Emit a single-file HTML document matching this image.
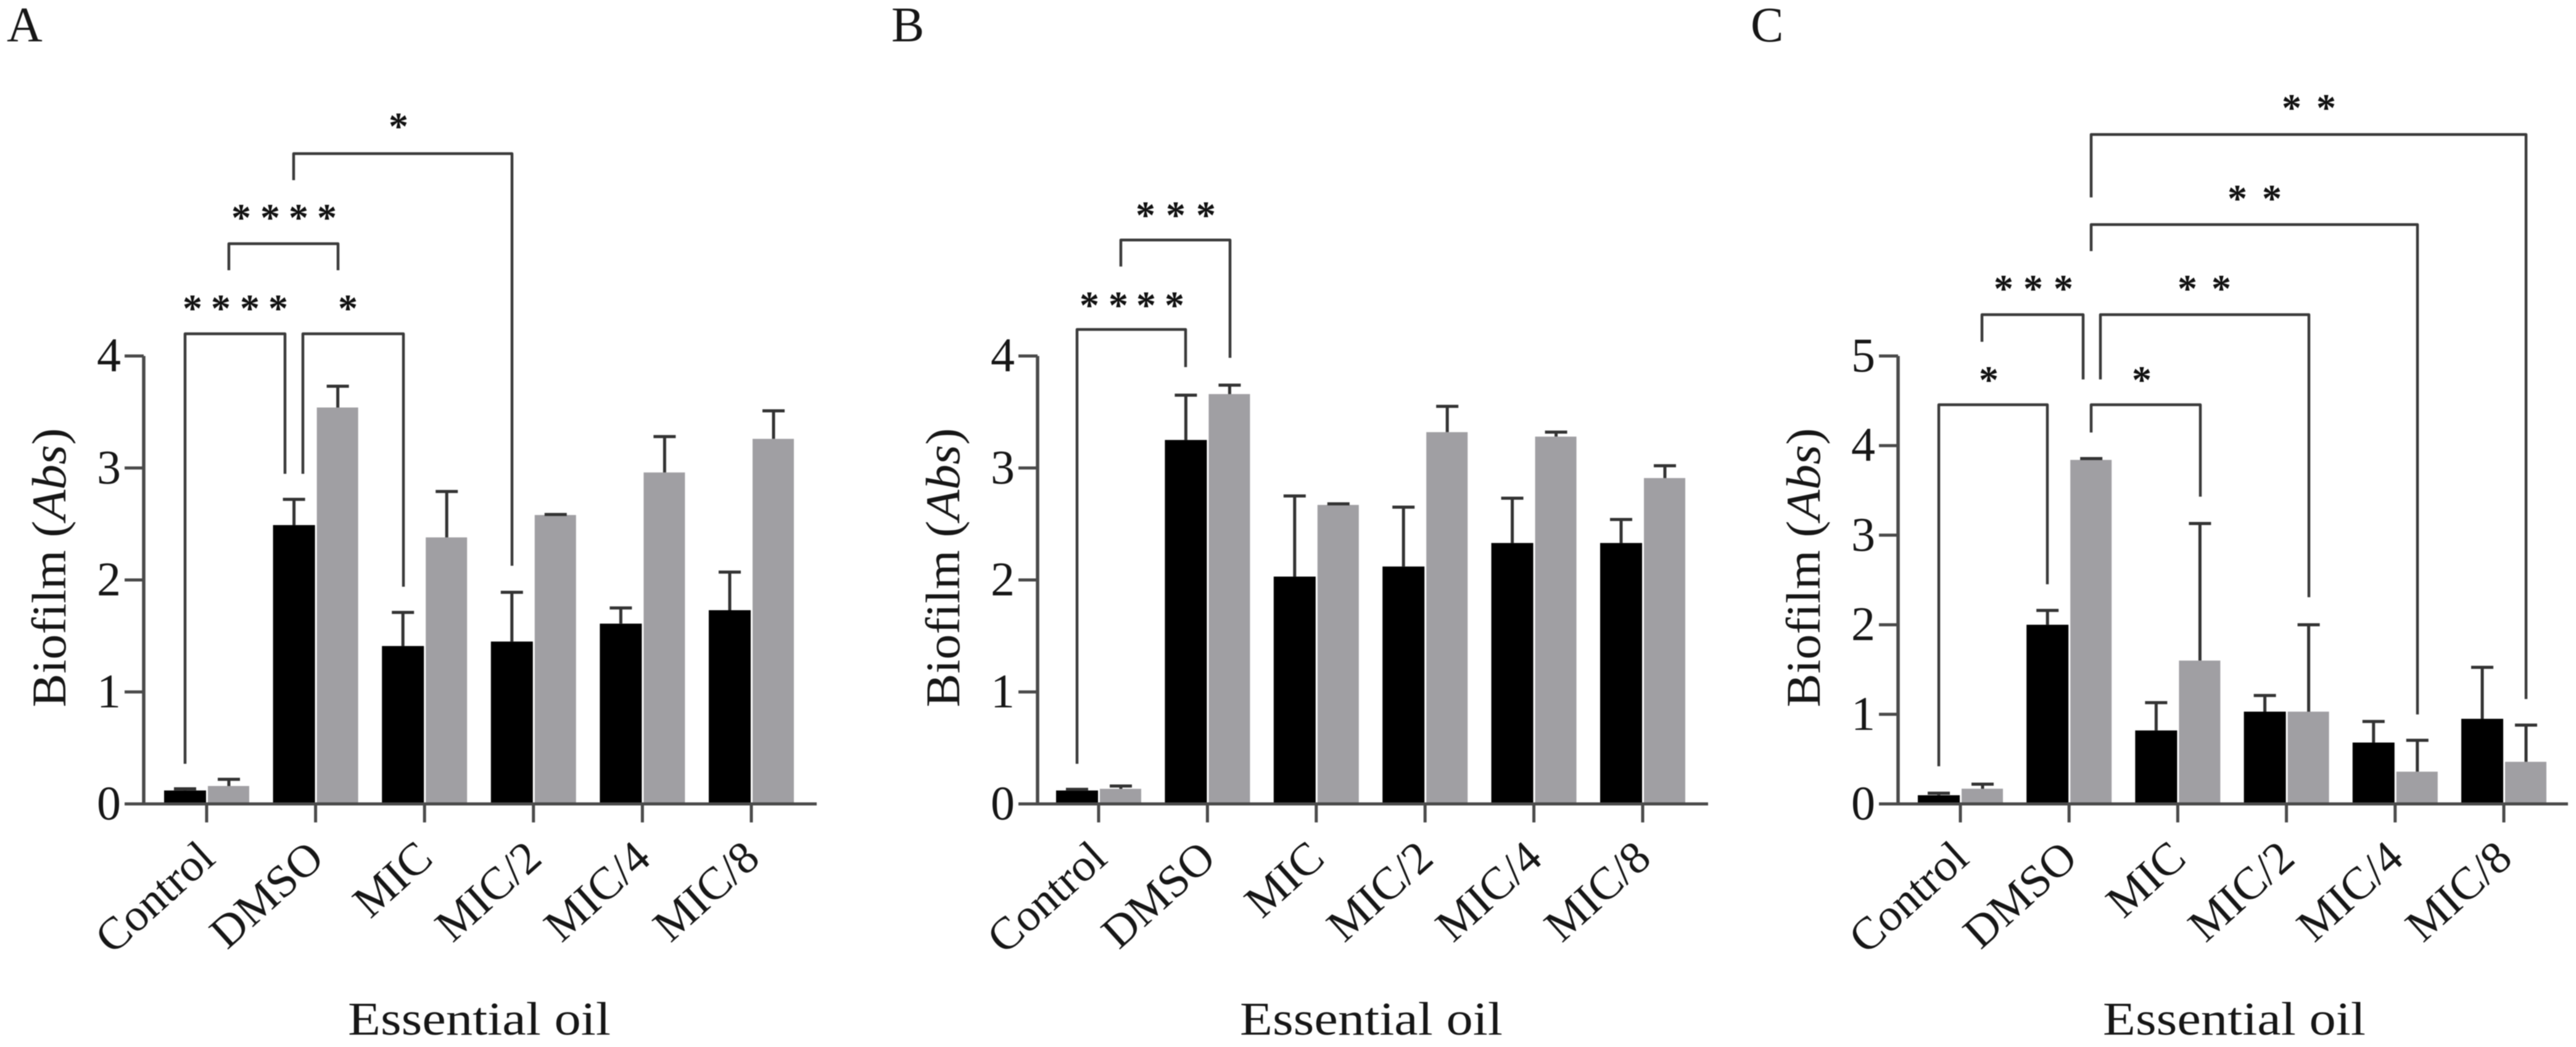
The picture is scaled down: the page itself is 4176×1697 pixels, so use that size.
<!DOCTYPE html>
<html lang="en">
<head>
<meta charset="utf-8">
<title>Biofilm absorbance by essential oil concentration</title>
<style>
html,body{margin:0;padding:0;background:#fff;}
svg{display:block;filter:blur(0.9px);}
text{font-family:"Liberation Serif",serif;fill:#161616;}
.bracket{fill:none;stroke:#3a3a3a;stroke-width:4.5;stroke-linejoin:round;}
.stars{font-size:64px;font-weight:bold;text-anchor:middle;fill:#111;}
.panel-letter{font-size:80px;}
</style>
</head>
<body>
<svg id="chart" xmlns="http://www.w3.org/2000/svg" width="4176" height="1697" viewBox="0 0 4176 1697">
  <rect width="4176" height="1697" fill="#fff"/>

  <text class="panel-letter" x="11" y="67">A</text>
  <text class="panel-letter" x="1445" y="67">B</text>
  <text class="panel-letter" x="2838" y="67">C</text>

  <g id="panel-a"></g>
  <g id="panel-b"></g>
  <g id="panel-c"></g>

  <g>
    <path class="bracket" d="M300 1238V541H462V768"/>
    <path class="bracket" d="M491 768V541H654V951"/>
    <path class="bracket" d="M371 438V395H548V438"/>
    <path class="bracket" d="M476 292V249H830V917"/>
    <text class="stars" x="312 358 405 451" y="521">****</text>
    <text class="stars" x="564" y="521">*</text>
    <text class="stars" x="391 438 484 530" y="374">****</text>
    <text class="stars" x="646" y="226">*</text>
  </g>

  <g>
    <path class="bracket" d="M1746 1238V534H1922V595"/>
    <path class="bracket" d="M1817 432V389H1994V580"/>
    <text class="stars" x="1766 1813 1858 1904" y="516">****</text>
    <text class="stars" x="1857 1906 1955" y="370">***</text>
  </g>

  <g>
    <path class="bracket" d="M3143 1242V656H3319V947"/>
    <path class="bracket" d="M3390 701V656H3567V805"/>
    <path class="bracket" d="M3213 554V510H3377V615"/>
    <path class="bracket" d="M3405 615V510H3743V968"/>
    <path class="bracket" d="M3390 407V364H3919V1158"/>
    <path class="bracket" d="M3390 320V218H4095V1133"/>
    <text class="stars" x="3224" y="637">*</text>
    <text class="stars" x="3472" y="637">*</text>
    <text class="stars" x="3248 3296 3345" y="489">***</text>
    <text class="stars" x="3546 3601" y="489">**</text>
    <text class="stars" x="3627 3683" y="343">**</text>
    <text class="stars" x="3715 3771" y="196">**</text>
  </g>
</svg>

<script>
const categories = ["Control", "DMSO", "MIC", "MIC/2", "MIC/4", "MIC/8"];

const ticksAB = [0, 1, 2, 3, 4];
const ticksC = [0, 1, 2, 3, 4, 5];

const aBlack = [0.12, 2.49, 1.41, 1.45, 1.61, 1.73];
const aBlackTop = [0.135, 2.72, 1.71, 1.89, 1.75, 2.07];
const aGray = [0.16, 3.54, 2.38, 2.58, 2.96, 3.26];
const aGrayTop = [0.22, 3.73, 2.79, 2.585, 3.28, 3.51];

const bBlack = [0.12, 3.25, 2.03, 2.12, 2.33, 2.33];
const bBlackTop = [0.13, 3.65, 2.75, 2.65, 2.73, 2.54];
const bGray = [0.135, 3.66, 2.67, 3.32, 3.28, 2.91];
const bGrayTop = [0.16, 3.74, 2.68, 3.55, 3.32, 3.02];

const cBlack = [0.097, 2.0, 0.82, 1.03, 0.685, 0.95];
const cBlackTop = [0.12, 2.16, 1.13, 1.21, 0.92, 1.525];
const cGray = [0.17, 3.84, 1.6, 1.03, 0.36, 0.47];
const cGrayTop = [0.22, 3.855, 3.13, 2.0, 0.71, 0.88];

const NS = "http://www.w3.org/2000/svg";
const Y_ZERO = 1303;
const Y_TOP = 577;
const AXIS_COLOR = "#4a4a4a";

function make(tag, attrs, parent) {
  const el = document.createElementNS(NS, tag);
  for (const k in attrs) el.setAttribute(k, attrs[k]);
  parent.appendChild(el);
  return el;
}

function drawPanel(id, layout, ticks, black, blackTop, gray, grayTop) {
  const root = document.getElementById(id);
  const maxTick = ticks[ticks.length - 1];
  const xScale = i => layout.firstTick + i * layout.step;
  const yScale = v => Y_ZERO - (v / maxTick) * (Y_ZERO - Y_TOP);

  function bar(cx, left, right, value, top, fill, kind) {
    const rect = make("rect", {
      x: left, y: yScale(value), width: right - left, height: Y_ZERO - yScale(value), fill: fill
    }, root);
    
    
    rect.setAttribute('data-series', kind);
    const err = make("path", {
      d: "M" + cx + " " + yScale(value) + "V" + yScale(top) + "M" + (cx - 18) + " " + yScale(top) + "H" + (cx + 18),
      stroke: "#333", "stroke-width": 5, fill: "none"
    }, root);
    
    
  }

  categories.forEach((name, i) => {
    const t = xScale(i);
    bar(t - 35, t - 69, t - 1, black[i], blackTop[i], "#000", "black");
    bar(t + 36, t + 2, t + 69, gray[i], grayTop[i], "#a09fa3", "gray");
  });

  const yAxis = make("path", {
    d: "M" + layout.axisX + " " + Y_TOP + "V" + (Y_ZERO + 2),
    stroke: AXIS_COLOR, "stroke-width": 5.5, fill: "none"
  }, root);
  
  

  const xAxis = make("path", {
    d: "M" + (layout.axisX - 31) + " " + Y_ZERO + "H" + layout.axisEnd,
    stroke: AXIS_COLOR, "stroke-width": 5, fill: "none"
  }, root);
  
  

  ticks.forEach(v => {
    const y = yScale(v);
    if (v !== 0) {
      const mark = make("path", {
        d: "M" + (layout.axisX - 31) + " " + y + "H" + layout.axisX,
        stroke: AXIS_COLOR, "stroke-width": 5, fill: "none"
      }, root);
      
      
    }
    const label = make("text", {
      x: layout.axisX - 37, y: y + 25, "font-size": 78, "text-anchor": "end"
    }, root);
    
    
    label.textContent = String(v);
  });

  categories.forEach((name, i) => {
    const t = xScale(i);
    const mark = make("path", {
      d: "M" + t + " " + Y_ZERO + "V" + (Y_ZERO + 30),
      stroke: AXIS_COLOR, "stroke-width": 5, fill: "none"
    }, root);
    
    
    const label = make("text", {
      transform: "translate(" + (t + 17) + " 1396) rotate(-42) scale(1.01 1)",
      "font-size": 74, "text-anchor": "end"
    }, root);
    
    
    label.textContent = name;
  });

  const yTitle = make("text", {
    transform: "translate(" + (layout.axisX - 127) + " 920) rotate(-90) scale(1.05 1)",
    "font-size": 78, "text-anchor": "middle"
  }, root);
  
  
  yTitle.textContent = "Biofilm (";
  const abs = make("tspan", { "font-style": "italic" }, yTitle);
  abs.textContent = "Abs";
  yTitle.appendChild(document.createTextNode(")"));

  const xTitle = make("text", {
    transform: "translate(" + layout.titleX + " 1677) scale(1.14 1)",
    "font-size": 76, "text-anchor": "middle"
  }, root);
  
  
  xTitle.textContent = "Essential oil";
}

drawPanel("panel-a", { firstTick: 335, step: 176.6, axisX: 233, axisEnd: 1324, titleX: 777 }, ticksAB, aBlack, aBlackTop, aGray, aGrayTop);
drawPanel("panel-b", { firstTick: 1781, step: 176.4, axisX: 1682, axisEnd: 2769, titleX: 2223 }, ticksAB, bBlack, bBlackTop, bGray, bGrayTop);
drawPanel("panel-c", { firstTick: 3178, step: 176.2, axisX: 3077, axisEnd: 4163, titleX: 3622 }, ticksC, cBlack, cBlackTop, cGray, cGrayTop);
</script>
</body>
</html>
